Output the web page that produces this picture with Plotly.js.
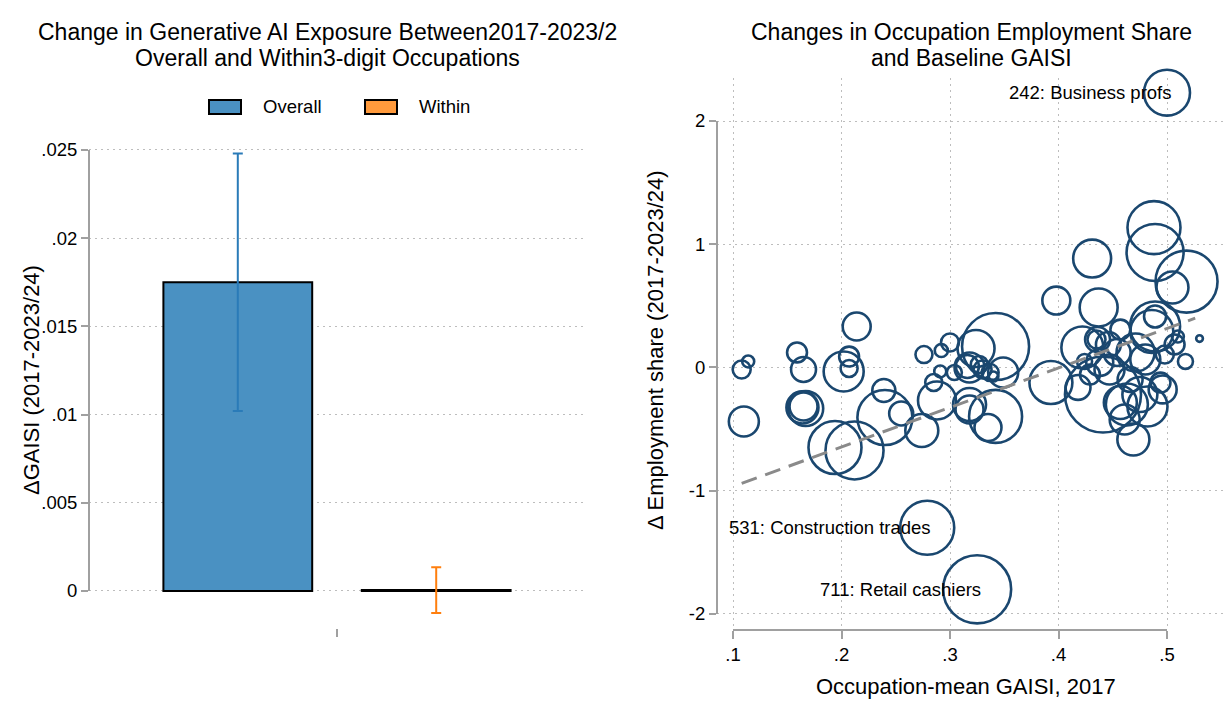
<!DOCTYPE html>
<html><head><meta charset="utf-8">
<script src="https://cdn.plot.ly/plotly-3.0.1.min.js"></script>
<style>html,body{margin:0;padding:0;background:#fff}#chart{width:1230px;height:702px}</style>
</head><body><div id="chart"></div>
<script>
// ---------- Left panel data ----------
const barCategories = ['Overall', 'Within'];
const barValues = [0.0175, 0.00005];
const barErrors = [0.0073, 0.0013];
const barYTickVals = [0, 0.005, 0.01, 0.015, 0.02, 0.025];
const barYTickText = ['0', '.005', '.01', '.015', '.02', '.025'];

// ---------- Right panel data ----------
const occGaisi = [0.108,0.114,0.110,0.159,0.165,0.164,0.167,0.165,0.214,0.207,
  0.202,0.207,0.194,0.212,0.239,0.240,0.255,0.274,0.276,0.292,
  0.300,0.291,0.285,0.288,0.324,0.342,0.304,0.316,0.318,0.330,
  0.337,0.340,0.349,0.327,0.318,0.318,0.342,0.335,0.393,0.398,
  0.431,0.488,0.489,0.518,0.505,0.437,0.530,0.489,0.489,0.486,
  0.510,0.507,0.517,0.422,0.418,0.441,0.436,0.457,0.469,0.463,
  0.494,0.496,0.480,0.454,0.471,0.438,0.457,0.482,0.435,0.447,
  0.466,0.429,0.475,0.461,0.446,0.498,0.424];
const empChange = [-0.016,0.049,-0.438,0.122,-0.016,-0.324,-0.333,-0.316,0.333,0.089,
  -0.032,-0.008,-0.649,-0.673,-0.187,-0.406,-0.373,-0.511,0.105,0.138,
  0.203,-0.032,-0.122,-0.268,0.154,0.170,-0.041,0.008,0.000,-0.016,
  -0.041,-0.073,-0.041,0.024,-0.300,-0.341,-0.397,-0.487,-0.122,0.543,
  0.884,1.135,0.933,0.697,0.649,0.487,0.235,0.414,0.333,0.292,
  0.251,0.187,0.049,0.162,-0.162,-0.219,0.227,0.308,-0.584,-0.300,
  -0.122,-0.178,0.065,0.122,0.122,0.041,-0.284,-0.316,0.227,-0.016,
  -0.097,-0.057,-0.219,-0.422,0.187,0.105,0.049];
const empWeight = [0.36,0.16,1.00,0.44,0.69,1.14,1.36,0.87,0.87,0.44,
  1.78,0.32,3.12,3.74,0.59,3.36,0.64,1.21,0.32,0.19,
  0.36,0.16,0.32,1.60,1.52,4.99,0.25,0.59,1.00,0.36,
  0.32,0.11,1.00,0.32,1.21,0.87,3.12,0.81,2.05,0.87,
  1.60,3.12,3.61,4.27,1.14,1.60,0.05,0.54,2.78,2.05,
  0.16,0.44,0.25,1.96,0.69,6.42,0.69,0.44,1.14,1.96,
  0.44,0.87,1.00,0.81,1.60,0.81,1.21,1.78,0.36,1.00,
  0.69,0.44,1.36,1.00,0.69,0.36,0.25];

const labelNames = ['242: Business profs', '531: Construction trades', '711: Retail cashiers'];
const labelGaisi = [0.500, 0.279, 0.325];
const labelChange = [2.23, -1.30, -1.80];
const labelWeight = [2.35, 3.24, 5.14];

const fitGaisi = [0.108, 0.526];
const fitChange = [-0.94, 0.40];

const scatXTickVals = [0.1, 0.2, 0.3, 0.4, 0.5];
const scatXTickText = ['.1', '.2', '.3', '.4', '.5'];
const scatYTickVals = [-2, -1, 0, 1, 2];
const scatYTickText = ['-2', '-1', '0', '1', '2'];

// ---------- Styles ----------
const FONT = 'Liberation Sans, Arial, Helvetica, sans-serif';
const GRID = '#bdbdbd';
const AXIS = '#a0a0a0';
const barFill = ['#4a91c2', '#ff9a3c'];
const errColor = ['#2a7bb8', '#ff7f0e'];
const NAVY = '#1a476f';

const W = 1230, H = 702;
const px = v => v / W;
const py = v => (H - v) / H;

const leftDom = {x: [px(89), px(585)], y: [py(628), py(145)]};
const rightDom = {x: [px(717), px(1224)], y: [py(630), py(78)]};

const traces = [];
barCategories.forEach((c, i) => {
  traces.push({
    type: 'bar', name: c, x: [i], y: [barValues[i]], width: 0.75,
    xaxis: 'x', yaxis: 'y',
    marker: {color: barFill[i], line: {color: '#000', width: 2}},
    error_y: {type: 'data', array: [barErrors[i]], visible: true, color: errColor[i], thickness: 2, width: 5},
    hoverinfo: 'skip'
  });
});

traces.push({
  type: 'scatter', mode: 'markers', xaxis: 'x2', yaxis: 'y2',
  x: occGaisi.concat(labelGaisi), y: empChange.concat(labelChange),
  marker: {size: empWeight.concat(labelWeight), sizemode: 'area', sizeref: 2 / 900, opacity: 1,
           color: 'rgba(0,0,0,0)', line: {color: NAVY, width: 2.6}},
  cliponaxis: false, hoverinfo: 'skip'
});
traces.push({
  type: 'scatter', mode: 'lines', xaxis: 'x2', yaxis: 'y2',
  x: fitGaisi, y: fitChange,
  line: {color: '#8a8a8a', width: 3, dash: '16px,9px'}, hoverinfo: 'skip'
});

const gridCommon = {showgrid: true, gridcolor: GRID, gridwidth: 1, griddash: '2px,4px', zeroline: false, showline: false,
                    ticks: 'outside', tickwidth: 2, tickcolor: AXIS, tickfont: {size: 18.5, color: '#000'}};

const shapes = [
  {type: 'line', xref: 'paper', yref: 'y', x0: leftDom.x[0], x1: leftDom.x[0], y0: 0, y1: 0.025, line: {color: AXIS, width: 2}},
  {type: 'line', xref: 'paper', yref: 'y2', x0: rightDom.x[0], x1: rightDom.x[0], y0: -2, y1: 2, line: {color: AXIS, width: 2}},
  {type: 'line', xref: 'x2', yref: 'paper', x0: 0.1, x1: 0.5, y0: rightDom.y[0], y1: rightDom.y[0], line: {color: AXIS, width: 2}},
  {type: 'rect', xref: 'paper', yref: 'paper', x0: px(209), x1: px(241), y0: py(114), y1: py(100), fillcolor: barFill[0], line: {color: '#000', width: 2}},
  {type: 'rect', xref: 'paper', yref: 'paper', x0: px(365), x1: px(397), y0: py(114), y1: py(100), fillcolor: barFill[1], line: {color: '#000', width: 2}}
];

const ann = (text, x, y, opts) => Object.assign({text, x, y, xref: 'paper', yref: 'paper', showarrow: false,
  xanchor: 'center', yanchor: 'middle', font: {family: FONT, size: 23, color: '#000'}}, opts || {});

const annotations = [
  ann('Change in Generative AI Exposure Between2017-2023/2', px(327), py(32)),
  ann('Overall and Within3-digit Occupations', px(327), py(58)),
  ann('Changes in Occupation Employment Share', px(971), py(32)),
  ann('and Baseline GAISI', px(971), py(58)),
  ann(barCategories[0], px(261), py(107), {xanchor: 'left', font: {family: FONT, size: 18.5, color: '#000'}}),
  ann(barCategories[1], px(417), py(107), {xanchor: 'left', font: {family: FONT, size: 18.5, color: '#000'}}),
  ann('ΔGAISI (2017-2023/24)', px(32), py(380), {textangle: -90, font: {family: FONT, size: 22, color: '#000'}}),
  ann('Δ Employment share (2017-2023/24)', px(655), py(350), {textangle: -90, font: {family: FONT, size: 22, color: '#000'}}),
  ann('Occupation-mean GAISI, 2017', px(966), py(686), {font: {family: FONT, size: 22, color: '#000'}})
];
labelNames.forEach((t, i) => {
  annotations.push({text: t, x: labelGaisi[i], y: labelChange[i], xref: 'x2', yref: 'y2', showarrow: false,
    xanchor: 'right', yanchor: 'middle', xshift: 6, font: {family: FONT, size: 18.5, color: '#000'}});
});

const layout = {
  width: W, height: H, margin: {l: 0, r: 0, t: 0, b: 0},
  paper_bgcolor: '#fff', plot_bgcolor: '#fff', showlegend: false, barmode: 'overlay',
  font: {family: FONT, size: 18.5, color: '#000'},
  xaxis: {domain: leftDom.x, range: [-0.75, 1.75], tickvals: [0.5], ticktext: [''], ticks: 'outside',
          ticklen: 8, tickwidth: 2, tickcolor: AXIS, showgrid: false, zeroline: false, showline: false, anchor: 'y'},
  yaxis: Object.assign({}, gridCommon, {domain: leftDom.y, range: [-0.0021, 0.02528], tickvals: barYTickVals,
          ticktext: barYTickText, ticklen: 7, anchor: 'x'}),
  xaxis2: Object.assign({}, gridCommon, {domain: rightDom.x, range: [0.08525, 0.55253], tickvals: scatXTickVals,
          ticktext: scatXTickText, ticklen: 8, anchor: 'y2'}),
  yaxis2: Object.assign({}, gridCommon, {domain: rightDom.y, range: [-2.130, 2.349], tickvals: scatYTickVals,
          ticktext: scatYTickText, ticklen: 7, anchor: 'x2'}),
  shapes, annotations
};

Plotly.newPlot('chart', traces, layout, {staticPlot: true, displayModeBar: false});
</script></body></html>
